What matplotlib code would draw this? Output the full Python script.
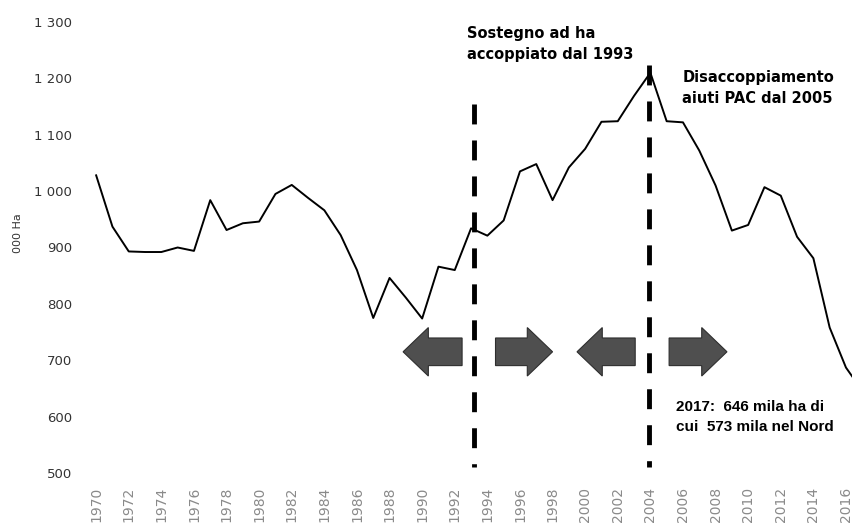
import matplotlib
matplotlib.use('Agg')
import matplotlib.pyplot as plt
from matplotlib.patches import FancyArrow

# Dati: superficie (000 ha) per anno
anni = list(range(1970, 2018))
superficie = [1028, 937, 893, 892, 892, 900, 894, 984, 931, 943,
              946, 995, 1011, 988, 966, 922, 860, 775, 846, 811,
              774, 866, 860, 934, 921, 948, 1035, 1048, 984, 1042,
              1075, 1123, 1124, 1169, 1210, 1124, 1122, 1072, 1010, 930,
              940, 1007, 992, 919, 881, 758, 687, 646]

tick_y = [500, 600, 700, 800, 900, 1000, 1100, 1200, 1300]
etichette_y = ['500', '600', '700', '800', '900', '1 000', '1 100', '1 200', '1 300']
tick_x = list(range(1970, 2017, 2))

# linee di riferimento (anno, valore in alto) e frecce (inizio, punta)
riferimenti = [(1993.2, 1154), (2003.93, 1224)]
frecce = [(1992.45, 1988.83), (1994.5, 1998.0), (2003.07, 1999.5), (2005.15, 2008.7)]

plt.rcParams['font.family'] = ['DejaVu Sans']

fig = plt.figure(figsize=(8.52, 5.28), dpi=100)
ax = fig.add_axes([88 / 852, 1 - 473 / 528, (852 - 88) / 852, (473 - 22) / 528])

ax.plot(anni, superficie, color='black', lw=1.4)

ax.set_xlim(1969.5, 2016.37)
ax.set_ylim(500, 1300)

ax.set_yticks(tick_y)
ax.set_yticklabels(etichette_y, fontsize=9.5, color='#333333')
ax.set_xticks(tick_x)
ax.set_xticklabels([str(a) for a in tick_x], rotation=90, fontsize=10, color='#8a8a8a')
ax.tick_params(axis='both', length=0)
ax.tick_params(axis='y', pad=11.5)
ax.tick_params(axis='x', pad=10)
for s in ax.spines.values():
    s.set_visible(False)

fig.text(18 / 852, 1 - 233 / 528, '000 Ha', rotation=90, fontsize=8,
         ha='center', va='center', color='#333333')

# linee tratteggiate
for x, top in riferimenti:
    ax.plot([x, x], [top, 510], color='black', lw=3.5,
            linestyle=(0, (4.1, 3.3)), dash_capstyle='butt')

# frecce
for inizio, fine in frecce:
    ax.add_patch(FancyArrow(inizio, 715, fine - inizio, 0, width=49, head_width=86,
                            head_length=1.55, length_includes_head=True,
                            facecolor='#4f4f4f', edgecolor='#2e2e2e', lw=0.8, zorder=3))

ax.text(1992.76, 1261, 'Sostegno ad ha\naccoppiato dal 1993', fontsize=10.5,
        fontweight='bold', va='center', ha='left', linespacing=1.5)
ax.text(2005.95, 1183, 'Disaccoppiamento\naiuti PAC dal 2005', fontsize=10.5,
        fontweight='bold', va='center', ha='left', linespacing=1.5)
ax.text(2005.55, 600, '2017:  646 mila ha di\ncui  573 mila nel Nord', fontsize=11,
        fontweight='bold', va='center', ha='left', linespacing=1.55,
        family='Liberation Sans')

fig.savefig('out.png', dpi=100)
